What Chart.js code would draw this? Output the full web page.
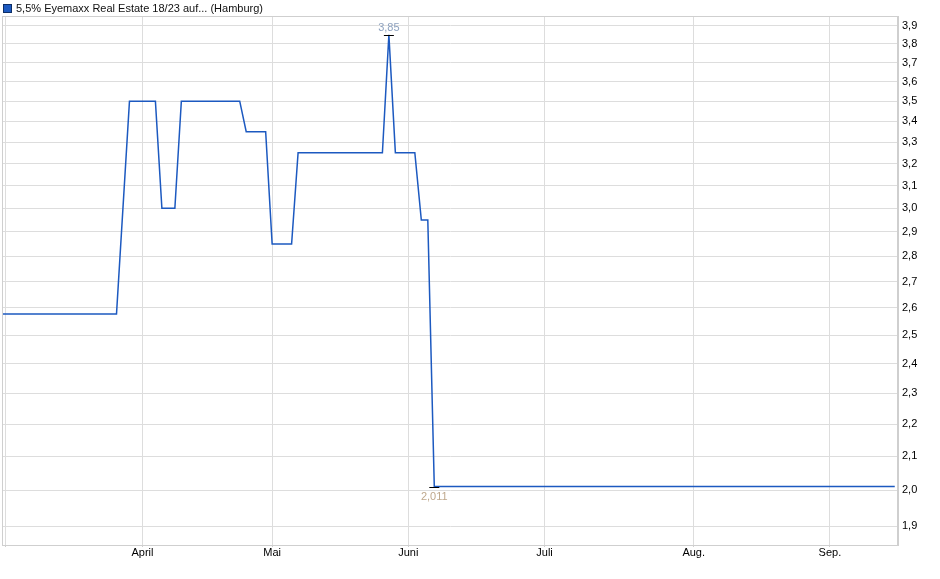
<!DOCTYPE html>
<html lang="de">
<head>
  <meta charset="UTF-8" />
  <title>5,5% Eyemaxx Real Estate 18/23 (Hamburg)</title>
  <style>
    body {
      margin: 0;
      background: #ffffff;
      font-family: 'Liberation Sans', Arial, sans-serif;
    }

    #wrap {
      position: relative;
      width: 940px;
      height: 579px;
    }

    #legend {
      position: absolute;
      top: 1px;
      left: 3px;
      font-size: 11px;
      color: #111;
      line-height: 14px;
      white-space: nowrap;
    }

    #legend span {
      display: inline-block;
      width: 7px;
      height: 7px;
      background: #1c59c0;
      border: 1px solid #0d2e66;
      margin-right: 4px;
      vertical-align: -1px;
    }
  </style>
</head>
<body>
  <div id="wrap">
    <div id="legend"><span></span>5,5% Eyemaxx Real Estate 18/23 auf... (Hamburg)</div>
    <canvas id="bondChart" width="940" height="579"></canvas>
  </div>

  <script src="https://cdn.jsdelivr.net/npm/chart.js"></script>
  <script>
    // trading-day index of each turning point, and the price there
    const dayIdx = [0, 18, 20, 24, 25, 27, 28, 37, 38, 41, 42, 45, 46, 59, 60, 61, 64, 65, 66, 67, 138];
    const prices = [2.577, 2.577, 3.5, 3.5, 3.0, 3.0, 3.5, 3.5, 3.35, 3.35, 2.85, 2.85, 3.25, 3.25, 3.85, 3.25, 3.25, 2.95, 2.95, 2.011, 2.011];

    // month grid lines (trading-day index) and their labels
    const monthPos = [0.9, 22, 42, 63, 84, 107, 128];
    const monthLabels = ['', 'April', 'Mai', 'Juni', 'Juli', 'Aug.', 'Sep.'];

    const yTicks = [1.9, 2.0, 2.1, 2.2, 2.3, 2.4, 2.5, 2.6, 2.7, 2.8, 2.9, 3.0, 3.1, 3.2, 3.3, 3.4, 3.5, 3.6, 3.7, 3.8, 3.9];

    const de = v => String(v).replace('.', ',');

    // frame around the plot area + max/min markers
    const extras = {
      id: 'extras',
      beforeDatasetsDraw(chart) {
        const { ctx, chartArea: a } = chart;
        ctx.save();
        ctx.strokeStyle = '#cfcfcf';
        ctx.lineWidth = 1;
        ctx.strokeRect(Math.round(a.left) - 0.5, Math.round(a.top) + 0.5, Math.round(a.right - a.left), Math.round(a.bottom - a.top));
        ctx.restore();
      },
      afterDatasetsDraw(chart) {
        const { ctx } = chart;
        const xs = chart.scales.x, ys = chart.scales.y;
        const hi = prices.indexOf(Math.max(...prices));
        const lo = prices.indexOf(Math.min(...prices));

        ctx.save();
        ctx.font = '11px "Liberation Sans", Arial, sans-serif';
        ctx.textAlign = 'center';
        ctx.strokeStyle = '#000';
        ctx.lineWidth = 1;

        let x = xs.getPixelForValue(dayIdx[hi]);
        let y = Math.round(ys.getPixelForValue(prices[hi])) + 0.5;
        ctx.beginPath(); ctx.moveTo(x - 5, y); ctx.lineTo(x + 5, y); ctx.stroke();
        ctx.fillStyle = '#8ea2bf';
        ctx.textBaseline = 'bottom';
        ctx.fillText(de(prices[hi]), x, y - 2);

        x = xs.getPixelForValue(dayIdx[lo]);
        y = Math.round(ys.getPixelForValue(prices[lo])) + 0.5;
        ctx.beginPath(); ctx.moveTo(x - 5, y); ctx.lineTo(x + 5, y); ctx.stroke();
        ctx.fillStyle = '#bfa88c';
        ctx.textBaseline = 'top';
        ctx.fillText(de(prices[lo]), x, y + 4);
        ctx.restore();
      }
    };

    Chart.defaults.font.family = "'Liberation Sans', Arial, sans-serif";
    Chart.defaults.font.size = 11;
    Chart.defaults.color = '#000';

    new Chart(document.getElementById('bondChart'), {
      type: 'line',
      data: {
        datasets: [{
          label: '5,5% Eyemaxx Real Estate 18/23 auf... (Hamburg)',
          data: dayIdx.map((d, i) => ({ x: d, y: prices[i] })),
          borderColor: '#1c59c0',
          borderWidth: 1.5,
          pointRadius: 0,
          tension: 0,
          fill: false
        }]
      },
      options: {
        responsive: false,
        animation: false,
        layout: { padding: { top: 16, left: 3, right: 0, bottom: 0 } },
        plugins: {
          legend: { display: false },
          tooltip: { enabled: false }
        },
        scales: {
          x: {
            type: 'linear',
            min: 0.5,
            max: 138.5,
            afterBuildTicks: s => { s.ticks = monthPos.map(v => ({ value: v })); },
            afterFit: s => { s.height = 34; },
            ticks: {
              autoSkip: false,
              maxRotation: 0,
              padding: -1,
              callback: (v, i) => monthLabels[i]
            },
            grid: { color: '#dddddd', tickLength: 2, tickColor: '#cfcfcf' },
            border: { color: '#cfcfcf' }
          },
          y: {
            type: 'logarithmic',
            position: 'right',
            min: 1.8488,
            max: 3.956,
            afterBuildTicks: s => { s.ticks = yTicks.map(v => ({ value: v })); },
            afterFit: s => { s.width = 42; },
            ticks: {
              padding: 4,
              callback: v => v.toFixed(1).replace('.', ',')
            },
            grid: { color: '#dddddd', drawTicks: false },
            border: { color: '#cfcfcf' }
          }
        }
      },
      plugins: [extras]
    });
  </script>
</body>
</html>
